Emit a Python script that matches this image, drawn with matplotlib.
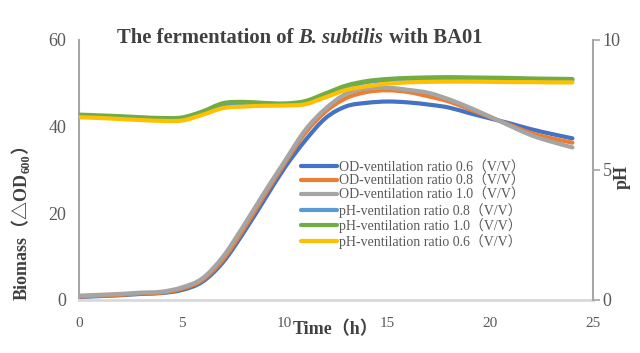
import matplotlib
matplotlib.use('Agg')
import matplotlib.pyplot as plt
import numpy as np
from matplotlib.path import Path
from matplotlib.patches import PathPatch
from matplotlib.lines import Line2D
from matplotlib.text import Annotation

# ---------------- data ----------------
hours = list(range(25))

od_06 = [0.7, 0.9, 1.1, 1.4, 1.6, 2.3, 4.2, 8.7, 15.5, 23.0, 30.5, 36.8, 42.0, 44.7, 45.5,
         45.8, 45.6, 45.1, 44.4, 43.1, 41.9, 40.7, 39.4, 38.3, 37.3]
od_08 = [0.8, 1.0, 1.2, 1.5, 1.7, 2.6, 4.6, 9.3, 16.3, 24.0, 31.5, 38.5, 43.5, 46.6, 48.0,
         48.4, 48.0, 47.0, 45.8, 44.0, 42.2, 40.3, 38.5, 37.3, 36.3]
od_10 = [1.0, 1.2, 1.4, 1.7, 1.9, 2.9, 5.0, 10.0, 17.1, 24.7, 32.0, 39.2, 44.2, 47.6, 48.8,
         49.0, 48.5, 47.8, 46.3, 44.4, 42.3, 40.1, 38.0, 36.5, 35.2]

ph_08 = [7.09, 7.06, 7.03, 6.99, 6.96, 6.97, 7.22, 7.50, 7.55, 7.53, 7.52, 7.62, 7.92, 8.20,
         8.38, 8.46, 8.50, 8.52, 8.53, 8.52, 8.51, 8.50, 8.48, 8.47, 8.46]
ph_10 = [7.13, 7.10, 7.07, 7.03, 7.00, 7.02, 7.25, 7.57, 7.62, 7.58, 7.56, 7.65, 7.95, 8.25,
         8.42, 8.50, 8.54, 8.56, 8.57, 8.56, 8.55, 8.54, 8.52, 8.51, 8.50]
ph_06 = [7.03, 7.00, 6.96, 6.92, 6.89, 6.90, 7.12, 7.38, 7.44, 7.47, 7.48, 7.53, 7.80, 8.08,
         8.22, 8.32, 8.37, 8.39, 8.40, 8.40, 8.39, 8.38, 8.38, 8.37, 8.37]

labels_od = ['OD-ventilation ratio 0.6（V/V）', 'OD-ventilation ratio 0.8（V/V）',
             'OD-ventilation ratio 1.0（V/V）']
labels_ph = ['pH-ventilation ratio 0.8（V/V）', 'pH-ventilation ratio 1.0（V/V）',
             'pH-ventilation ratio 0.6（V/V）']

x_ticks = [0, 5, 10, 15, 20, 25]
y_ticks = [0, 20, 40, 60]
ph_ticks = [0, 5, 10]

# ---------------- style ----------------
SERIF = ['Liberation Serif', 'Noto Sans CJK SC', 'DejaVu Sans']
plt.rcParams['font.family'] = SERIF

c_od = ['#4472C4', '#ED7D31', '#A5A5A5']
c_ph = ['#5B9BD5', '#70AD47', '#FFC000']
TICK_C = '#595959'
LAB_C = '#404040'
LW = 3.0


def smooth_line(axis, x, y, color):
    """Excel-style smoothed line: cubic Bezier segments through the data points."""
    pts = np.column_stack([x, y]).astype(float)
    n = len(pts)
    verts = [pts[0]]
    codes = [Path.MOVETO]
    for i in range(n - 1):
        p0 = pts[i - 1] if i > 0 else pts[i]
        p1 = pts[i]
        p2 = pts[i + 1]
        p3 = pts[i + 2] if i + 2 < n else pts[i + 1]
        verts += [p1 + (p2 - p0) / 6.0, p2 - (p3 - p1) / 6.0, p2]
        codes += [Path.CURVE4] * 3
    patch = PathPatch(Path(verts, codes), fill=False, edgecolor=color, lw=LW,
                      capstyle='round', joinstyle='round', transform=axis.transData)
    axis.add_patch(patch)
    return Line2D([], [], color=color, lw=LW, solid_capstyle='round')


fig = plt.figure(figsize=(6.4, 3.53), dpi=100)
ax = fig.add_axes([79/640, 53/353, 514/640, 260/353])
ax2 = ax.twinx()

ax.set_xlim(0, 25)
ax.set_ylim(0, 60)
ax2.set_ylim(0, 10)

handles = []
for vals, col in zip([od_06, od_08, od_10], c_od):
    handles.append(smooth_line(ax, hours, vals, col))
for vals, col in zip([ph_08, ph_10, ph_06], c_ph):
    handles.append(smooth_line(ax2, hours, vals, col))

ax.set_xticks(x_ticks)
ax.set_yticks(y_ticks)
ax2.set_yticks(ph_ticks)

for s in ['top', 'right']:
    ax.spines[s].set_visible(False)
for s in ['top', 'left', 'bottom']:
    ax2.spines[s].set_visible(False)
ax.spines['left'].set_color('#A6A6A6')
ax.spines['left'].set_linewidth(1.5)
ax.spines['bottom'].set_color('#D9D9D9')
ax.spines['bottom'].set_linewidth(2.0)
ax2.spines['right'].set_color('#A6A6A6')
ax2.spines['right'].set_linewidth(1.5)

ax.tick_params(axis='y', length=0, labelsize=13, labelcolor=TICK_C, pad=9)
ax.tick_params(axis='x', length=0, labelsize=11, labelcolor=TICK_C, pad=12)
ax2.tick_params(axis='y', length=5, width=1.2, color='#A6A6A6', direction='out',
                labelsize=13, labelcolor=TICK_C, pad=2)

# x label
fig.text(293/640, 1 - 330/353, 'Time（h）', ha='left', va='center',
         fontsize=13, fontweight='bold', color=LAB_C)

# left y label with subscript, built from pieces
yl1 = fig.text(22/640, 1 - 300/353, 'Biomass（△OD', rotation=90, ha='center',
               va='bottom', fontsize=13, fontweight='bold', color=LAB_C)
yl2 = fig.add_artist(Annotation('600', xy=(1, 1), xycoords=yl1, xytext=(1.5, 0),
                                textcoords='offset points', rotation=90, ha='right',
                                va='bottom', fontsize=9, fontweight='bold', color=LAB_C))
yl3 = fig.add_artist(Annotation('）', xy=(0.5, 1), xycoords=(yl1, yl2), rotation=90,
                                ha='center', va='bottom', fontsize=13, fontweight='bold',
                                color=LAB_C))

# right y label
fig.text(622/640, 1 - 177/353, 'pH', rotation=90, ha='center', va='center',
         fontsize=13, fontweight='bold', color=LAB_C)

# title (mixed bold / bold italic)
TS = 14.9
t1 = fig.text(117/640, 1 - 48/353, 'The fermentation of ', ha='left', va='bottom',
              fontsize=TS, fontweight='bold', color=LAB_C)
a2 = fig.add_artist(Annotation('B. subtilis', xy=(1, 0), xycoords=t1, ha='left',
                               va='bottom', fontsize=TS, fontweight='bold',
                               fontstyle='italic', color=LAB_C))
a3 = fig.add_artist(Annotation(' with BA01', xy=(1, 0), xycoords=a2, ha='left',
                               va='bottom', fontsize=TS, fontweight='bold', color=LAB_C))

leg = ax2.legend(handles=handles, labels=labels_od + labels_ph, loc='upper left',
                 bbox_to_anchor=(301/640, 1 - 161/353), bbox_transform=fig.transFigure,
                 frameon=False, fontsize=10, labelcolor=TICK_C, handlelength=2.6,
                 handletextpad=0.15, labelspacing=0.05, borderpad=0, borderaxespad=0)

fig.savefig('out.png', dpi=100)
